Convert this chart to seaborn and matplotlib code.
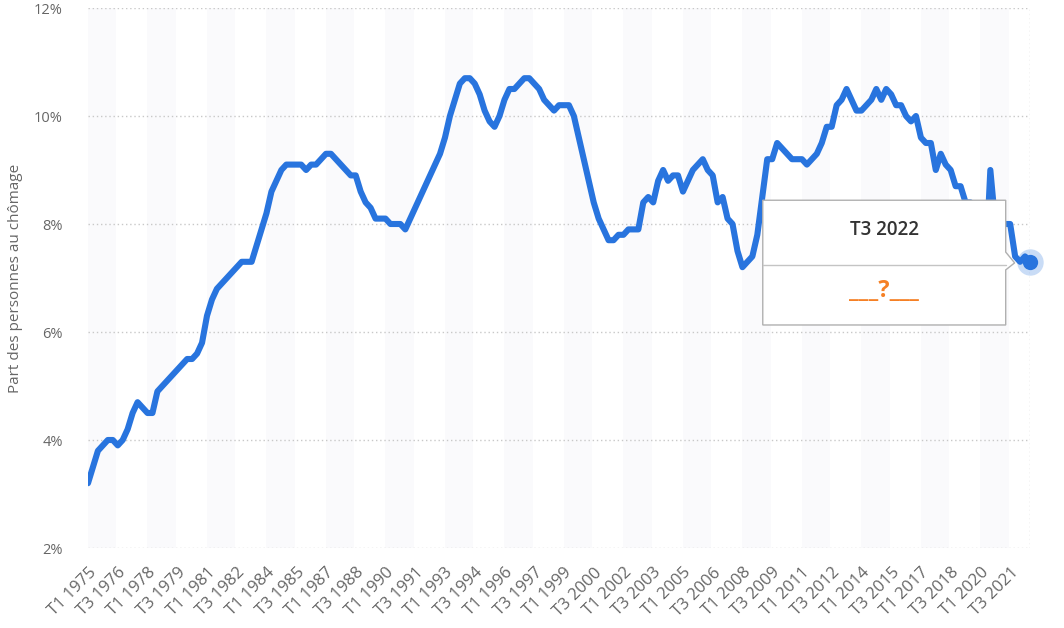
import matplotlib.pyplot as plt
import seaborn as sns
import pandas as pd
from matplotlib.patches import Polygon

# Taux de chomage trimestriel, T1 1975 -> T3 2022
years = list(range(1975, 2023))
quarter_labels = [f"T{q} {y}" for y in years for q in range(1, 5)][:191]

unemployment = [
    3.2, 3.5, 3.8, 3.9,      # 1975
    4.0, 4.0, 3.9, 4.0,      # 1976
    4.2, 4.5, 4.7, 4.6,      # 1977
    4.5, 4.5, 4.9, 5.0,      # 1978
    5.1, 5.2, 5.3, 5.4,      # 1979
    5.5, 5.5, 5.6, 5.8,      # 1980
    6.3, 6.6, 6.8, 6.9,      # 1981
    7.0, 7.1, 7.2, 7.3,      # 1982
    7.3, 7.3, 7.6, 7.9,      # 1983
    8.2, 8.6, 8.8, 9.0,      # 1984
    9.1, 9.1, 9.1, 9.1,      # 1985
    9.0, 9.1, 9.1, 9.2,      # 1986
    9.3, 9.3, 9.2, 9.1,      # 1987
    9.0, 8.9, 8.9, 8.6,      # 1988
    8.4, 8.3, 8.1, 8.1,      # 1989
    8.1, 8.0, 8.0, 8.0,      # 1990
    7.9, 8.1, 8.3, 8.5,      # 1991
    8.7, 8.9, 9.1, 9.3,      # 1992
    9.6, 10.0, 10.3, 10.6,   # 1993
    10.7, 10.7, 10.6, 10.4,  # 1994
    10.1, 9.9, 9.8, 10.0,    # 1995
    10.3, 10.5, 10.5, 10.6,  # 1996
    10.7, 10.7, 10.6, 10.5,  # 1997
    10.3, 10.2, 10.1, 10.2,  # 1998
    10.2, 10.2, 10.0, 9.6,   # 1999
    9.2, 8.8, 8.4, 8.1,      # 2000
    7.9, 7.7, 7.7, 7.8,      # 2001
    7.8, 7.9, 7.9, 7.9,      # 2002
    8.4, 8.5, 8.4, 8.8,      # 2003
    9.0, 8.8, 8.9, 8.9,      # 2004
    8.6, 8.8, 9.0, 9.1,      # 2005
    9.2, 9.0, 8.9, 8.4,      # 2006
    8.5, 8.1, 8.0, 7.5,      # 2007
    7.2, 7.3, 7.4, 7.8,      # 2008
    8.5, 9.2, 9.2, 9.5,      # 2009
    9.4, 9.3, 9.2, 9.2,      # 2010
    9.2, 9.1, 9.2, 9.3,      # 2011
    9.5, 9.8, 9.8, 10.2,     # 2012
    10.3, 10.5, 10.3, 10.1,  # 2013
    10.1, 10.2, 10.3, 10.5,  # 2014
    10.3, 10.5, 10.4, 10.2,  # 2015
    10.2, 10.0, 9.9, 10.0,   # 2016
    9.6, 9.5, 9.5, 9.0,      # 2017
    9.3, 9.1, 9.0, 8.7,      # 2018
    8.7, 8.4, 8.4, 8.1,      # 2019
    7.8, 7.1, 9.0, 8.0,      # 2020
    8.0, 8.0, 8.0, 7.4,      # 2021
    7.3, 7.4, 7.3,           # 2022
]

y_ticks = [2, 4, 6, 8, 10, 12]

df = pd.DataFrame({"idx": range(len(unemployment)),
                   "trimestre": quarter_labels,
                   "taux": unemployment})

sns.set_theme(style="white")
plt.rcParams['font.family'] = ['Open Sans', 'DejaVu Sans']

line_color = "#2874de"
text_gray = "#666666"

fig = plt.figure(figsize=(10.64, 6.28), dpi=100)
ax = fig.add_axes([88 / 1064, 1 - 548 / 628, (1030 - 88) / 1064, (548 - 8) / 628])

n = len(unemployment)
# alternating light bands, 6 quarters wide
for start in range(0, n, 12):
    ax.axvspan(start, start + 5.7, color="#fafafc", zorder=0, lw=0)

for yt in y_ticks:
    ax.axhline(yt, color="#c8c8c8", lw=1, ls=(0, (1, 2)), zorder=1)
ax.axvline(n - 1, color="#c8c8c8", lw=1, ls=(0, (1, 2)), zorder=1)

sns.lineplot(data=df, x="idx", y="taux", color=line_color, linewidth=4.4,
             solid_capstyle="round", solid_joinstyle="round", ax=ax, zorder=3)

# highlighted last point
ax.plot(n - 1, unemployment[-1], "o", ms=19, color=line_color, alpha=0.25,
        mec="none", clip_on=False, zorder=6)
ax.plot(n - 1, unemployment[-1], "o", ms=11, color=line_color, mec="none",
        clip_on=False, zorder=7)

ax.set_xlim(0, n - 1)
ax.set_ylim(2, 12)
ax.set_yticks(y_ticks)
ax.set_yticklabels([f"{v}%" for v in y_ticks])
ax.set_xticks(list(range(0, n, 6)))
ax.set_xticklabels(quarter_labels[::6], rotation=45, ha="right",
                   rotation_mode="anchor")
ax.tick_params(axis="y", length=0, pad=18, labelsize=10.5, labelcolor=text_gray)
ax.tick_params(axis="x", length=0, pad=12, labelsize=12, labelcolor=text_gray)
ax.set_xlabel("")
ax.set_ylabel("Part des personnes au chômage", fontsize=11, color=text_gray,
              labelpad=8)
for s in ax.spines.values():
    s.set_visible(False)

# tooltip box
x0, x1, y0, y1 = 136.1, 185.1, 6.13, 8.44
box = Polygon([(x0, y1), (x1, y1), (x1, 7.48), (186.9, 7.28), (x1, 7.15),
               (x1, y0), (x0, y0)], closed=True, facecolor="white",
              edgecolor="#b0b0b0", lw=1, zorder=5)
ax.add_patch(box)
ax.plot([x0, x1], [7.24, 7.24], color="#c4c4c4", lw=1, zorder=5.5)
ax.text((x0 + x1) / 2, 7.89, "T3 2022", ha="center", va="center",
        fontsize=13.5, fontweight="semibold", color="#333333", zorder=6)
ax.text((x0 + x1) / 2, 6.64, "___?___", ha="center", va="baseline",
        fontsize=17, fontweight="bold", color="#f58025", zorder=6)

fig.savefig("out.png", dpi=100)
